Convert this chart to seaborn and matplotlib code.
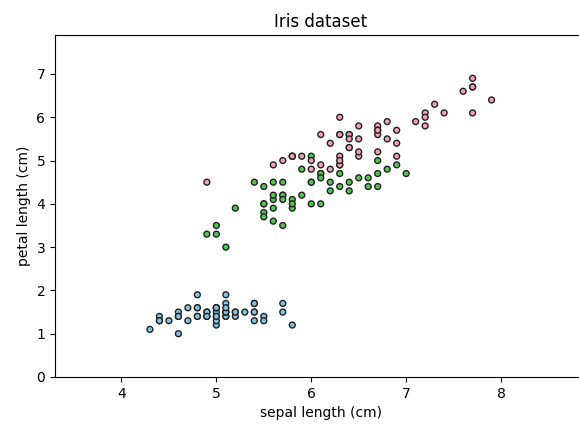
import matplotlib
matplotlib.use("Agg")
import matplotlib.pyplot as plt
import seaborn as sns
import pandas as pd

setosa_sepal = [5.1,4.9,4.7,4.6,5.0,5.4,4.6,5.0,4.4,4.9,5.4,4.8,4.8,4.3,5.8,5.7,5.4,5.1,5.7,5.1,
                5.4,5.1,4.6,5.1,4.8,5.0,5.0,5.2,5.2,4.7,4.8,5.4,5.2,5.5,4.9,5.0,5.5,4.9,4.4,5.1,
                5.0,4.5,4.4,5.0,5.1,4.8,5.1,4.6,5.3,5.0]
setosa_petal = [1.4,1.4,1.3,1.5,1.4,1.7,1.4,1.5,1.4,1.5,1.5,1.6,1.4,1.1,1.2,1.5,1.3,1.4,1.7,1.5,
                1.7,1.5,1.0,1.7,1.9,1.6,1.6,1.5,1.4,1.6,1.6,1.5,1.5,1.4,1.5,1.2,1.3,1.4,1.3,1.5,
                1.3,1.3,1.3,1.6,1.9,1.4,1.6,1.4,1.5,1.4]
versicolor_sepal = [7.0,6.4,6.9,5.5,6.5,5.7,6.3,4.9,6.6,5.2,5.0,5.9,6.0,6.1,5.6,6.7,5.6,5.8,6.2,5.6,
                    5.9,6.1,6.3,6.1,6.4,6.6,6.8,6.7,6.0,5.7,5.5,5.5,5.8,6.0,5.4,6.0,6.7,6.3,5.6,5.5,
                    5.5,6.1,5.8,5.0,5.6,5.7,5.7,6.2,5.1,5.7]
versicolor_petal = [4.7,4.5,4.9,4.0,4.6,4.5,4.7,3.3,4.6,3.9,3.5,4.2,4.0,4.7,3.6,4.4,4.5,4.1,4.5,3.9,
                    4.8,4.0,4.9,4.7,4.3,4.4,4.8,5.0,4.5,3.5,3.8,3.7,3.9,5.1,4.5,4.5,4.7,4.4,4.1,4.0,
                    4.4,4.6,4.0,3.3,4.2,4.2,4.2,4.3,3.0,4.1]
virginica_sepal = [6.3,5.8,7.1,6.3,6.5,7.6,4.9,7.3,6.7,7.2,6.5,6.4,6.8,5.7,5.8,6.4,6.5,7.7,7.7,6.0,
                   6.9,5.6,7.7,6.3,6.7,7.2,6.2,6.1,6.4,7.2,7.4,7.9,6.4,6.3,6.1,7.7,6.3,6.4,6.0,6.9,
                   6.7,6.9,5.8,6.8,6.7,6.7,6.3,6.5,6.2,5.9]
virginica_petal = [6.0,5.1,5.9,5.6,5.8,6.6,4.5,6.3,5.8,6.1,5.1,5.3,5.5,5.0,5.1,5.3,5.5,6.7,6.9,5.0,
                   5.7,4.9,6.7,4.9,5.7,6.0,4.8,4.9,5.6,5.8,6.1,6.4,5.6,5.1,5.6,6.1,5.6,5.5,4.8,5.4,
                   5.6,5.1,5.1,5.9,5.7,5.2,5.0,5.2,5.4,5.1]
species = ["setosa", "versicolor", "virginica"]
colors = ["#86c3dc", "#55c455", "#f2a1b1"]

df = pd.concat([
    pd.DataFrame({"sepal": setosa_sepal, "petal": setosa_petal, "species": "setosa"}),
    pd.DataFrame({"sepal": versicolor_sepal, "petal": versicolor_petal, "species": "versicolor"}),
    pd.DataFrame({"sepal": virginica_sepal, "petal": virginica_petal, "species": "virginica"}),
], ignore_index=True)

fig = plt.figure(figsize=(5.79, 4.26), dpi=100)
ax = fig.add_axes([55/579, 1-377/426, (586.5-55)/579, (377-35)/426])
sns.scatterplot(data=df, x="sepal", y="petal", hue="species", hue_order=species,
                palette=colors, s=18, edgecolor="#222222", linewidth=1, legend=False, ax=ax)
ax.set_xlim(3.3, 8.9)
ax.set_ylim(0, 7.9)
ax.set_xticks([4, 5, 6, 7, 8])
ax.set_yticks(range(8))
ax.set_xlabel("sepal length (cm)")
ax.set_ylabel("petal length (cm)")
ax.set_title("Iris dataset")
fig.savefig("out.png", dpi=100)
